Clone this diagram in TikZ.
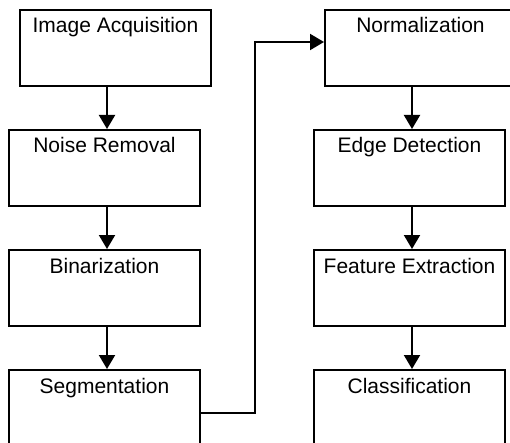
\documentclass[tikz,border=0pt]{standalone}
\usepackage{fontspec}
\setmainfont{Liberation Sans}
\usetikzlibrary{arrows.meta}
\tikzset{
  stagebox/.style={draw, line width=2pt, minimum width=191pt, minimum height=76pt, inner sep=0pt},
  lbl/.style={anchor=base, yshift=-24pt, font=\fontsize{21}{25}\selectfont, inner sep=0pt},
  flow/.style={line width=2pt, -{Triangle[width=16pt,length=14pt]}}
}
\begin{document}
\begin{tikzpicture}[x=1pt,y=-1pt]
\useasboundingbox (0,0) rectangle (510,443);
\clip (0,0) rectangle (510,443);
\node[stagebox, label={[lbl]north:Image Acquisition}] (acq) at (115.5,48) {};
\node[stagebox, label={[lbl]north:Noise Removal}] (noise) at (104.5,168) {};
\node[stagebox, label={[lbl]north:Binarization}] (bin) at (104.5,288) {};
\node[stagebox, label={[lbl]north:Segmentation}] (seg) at (104.5,408) {};
\node[stagebox, label={[lbl]north:Normalization}] (norm) at (420.5,48) {};
\node[stagebox, label={[lbl]north:Edge Detection}] (edge) at (409.5,168) {};
\node[stagebox, label={[lbl]north:Feature Extraction}] (feat) at (409.5,288) {};
\node[stagebox, label={[lbl]north:Classification}] (cls) at (409.5,408) {};
\coordinate (lx) at (107,0);
\coordinate (rx) at (412,0);
\coordinate (j1) at (255,413);
\coordinate (j2) at (255,42);
\draw[flow] (acq.south -| lx) -- (noise.north -| lx);
\draw[flow] (noise.south -| lx) -- (bin.north -| lx);
\draw[flow] (bin.south -| lx) -- (seg.north -| lx);
\draw[flow] (norm.south -| rx) -- (edge.north -| rx);
\draw[flow] (edge.south -| rx) -- (feat.north -| rx);
\draw[flow] (feat.south -| rx) -- (cls.north -| rx);
\draw[flow] (j1 -| seg.east) -- (j1) -- (j2) -- (j2 -| norm.west);
\end{tikzpicture}
\end{document}
